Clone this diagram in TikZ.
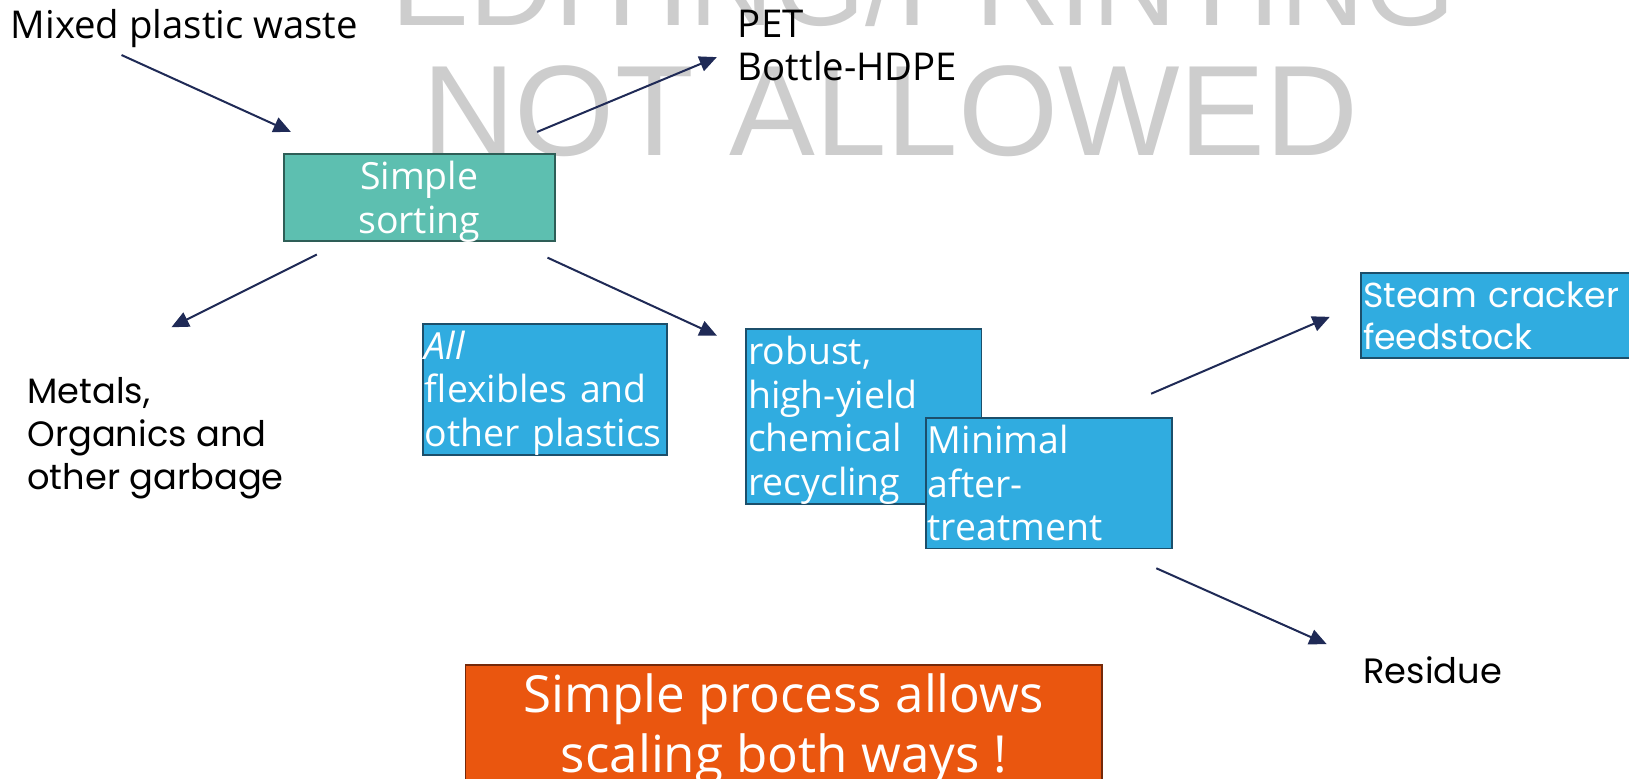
\documentclass[tikz,border=0pt]{standalone}
\usepackage{fontspec}
\setmainfont{Open Sans}
\newfontfamily\widefont{Poppins}
\newfontfamily\wmfont{Liberation Sans}
\usetikzlibrary{arrows.meta}

\definecolor{sortfill}{HTML}{5DBFB0}
\definecolor{sortline}{HTML}{2E5E57}
\definecolor{boxfill}{HTML}{30ACE0}
\definecolor{boxline}{HTML}{1C4F6B}
\definecolor{orangefill}{HTML}{EA560F}
\definecolor{orangeline}{HTML}{74290A}
\definecolor{arrowcol}{HTML}{1F2A56}
\definecolor{wmgray}{HTML}{CDCDCD}

\begin{document}
\begin{tikzpicture}[x=0.02cm, y=-0.02cm,
    flow/.style={draw=arrowcol, line width=1.1pt, -{Triangle[length=9.5pt, width=8.5pt]}},
    label/.style={align=left, inner sep=0pt, font=\fontsize{21}{23.5}\selectfont},
    widelabel/.style={align=left, inner sep=0pt, font=\widefont\fontsize{19.3}{23.5}\selectfont},
    lowered/.style={execute at begin node={\rule{0pt}{#1}}},
    bluebox/.style={draw=boxline, fill=boxfill, line width=1pt, text=white, align=left,
        inner xsep=1pt, inner ysep=0pt, font=\fontsize{20.5}{23.8}\selectfont}]

    \useasboundingbox (0,0) rectangle (1568,749);

    % Watermark in the back
    \node (wmtop) at (889,25) [anchor=base, text=wmgray, inner sep=0pt, font=\wmfont\fontsize{64}{64}\selectfont] {EDITING/PRINTING};
    \node (wmbottom) at (857,150) [anchor=base, text=wmgray, inner sep=0pt, font=\wmfont\fontsize{70.5}{70.5}\selectfont] {NOT ALLOWED};

    % Define the end points of the arrows
    \coordinate (in1) at (117,53);
    \coordinate (in2) at (280,127);
    \coordinate (pet1) at (517,127);
    \coordinate (pet2) at (690,55);
    \coordinate (met1) at (305,245);
    \coordinate (met2) at (165,315);
    \coordinate (chem1) at (527,248);
    \coordinate (chem2) at (690,323);
    \coordinate (steam1) at (1108,379);
    \coordinate (steam2) at (1280,305);
    \coordinate (res1) at (1113,547);
    \coordinate (res2) at (1277,620);

    % Plain labels
    \node (mixed) at (10,27) [anchor=west, label] {Mixed plastic waste};
    \node (pet) at (710,44) [anchor=west, label] {PET\\Bottle-HDPE};
    \node (metals) at (26,422) [anchor=west, widelabel] {Metals,\\Organics and\\other garbage};
    \node (residue) at (1312,645) [anchor=west, widelabel] {Residue};

    % Boxes
    \node (sorting) at (403.5,190) [draw=sortline, fill=sortfill, line width=1pt, text=white,
        text width=5.1cm, minimum height=1.68cm, align=center, inner xsep=0.06cm, inner ysep=0pt,
        lowered=15.5pt, font=\fontsize{20.5}{23.8}\selectfont] {Simple\\\smash{sorting}};
    \node (flex) at (524.5,375) [bluebox, lowered=19.5pt, text width=4.62cm, minimum height=2.52cm]
        {\textit{All}\\flexibles and\\other plastics};
    \node (robust) at (831.5,401) [bluebox, lowered=19.5pt, text width=4.46cm, minimum height=3.36cm]
        {robust,\\high-yield\\chemical\\recycling};
    \node (minimal) at (1009.5,465) [bluebox, text width=4.66cm, minimum height=2.52cm]
        {Minimal\\after-\\treatment};
    \node (steam) at (1445,304) [bluebox, text width=5.32cm, minimum height=1.64cm,
        font=\widefont\fontsize{19}{22.7}\selectfont] {Steam cracker\\feedstock};
    \node (scaling) at (754.5,702) [draw=orangeline, fill=orangefill, line width=1pt, text=white,
        minimum width=12.26cm, minimum height=2.48cm, align=center, inner sep=0pt,
        font=\fontsize{28}{33}\selectfont] {Simple process allows\\scaling both ways !};

    % Draw the arrows
    \draw[flow] (in1) -- (in2);
    \draw[flow] (pet1) -- (pet2);
    \draw[flow] (met1) -- (met2);
    \draw[flow] (chem1) -- (chem2);
    \draw[flow] (steam1) -- (steam2);
    \draw[flow] (res1) -- (res2);

\end{tikzpicture}
\end{document}
